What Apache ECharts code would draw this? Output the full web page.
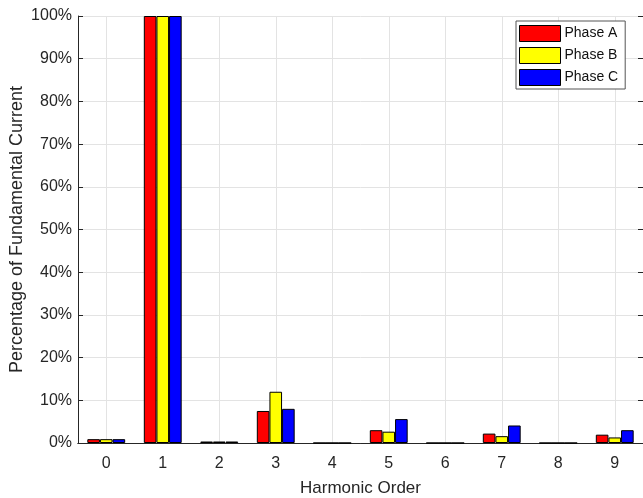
<!DOCTYPE html>
<html><head><meta charset="utf-8">
<script src="https://cdn.jsdelivr.net/npm/echarts@6/dist/echarts.min.js"></script>
<style>html,body{margin:0;padding:0;background:#fff}#c{width:643px;height:498px}</style>
</head><body><div id="c"></div>
<script>
const categories = ['0','1','2','3','4','5','6','7','8','9'];
const phaseA = [0.9, 100, 0.35, 7.5, 0, 3.0, 0, 2.2, 0, 1.95];
const phaseB = [0.9, 100, 0.35, 12.0, 0, 2.65, 0, 1.6, 0, 1.3];
const phaseC = [0.9, 100, 0.35, 8.0, 0, 5.6, 0, 4.1, 0, 3.0];
const yTicks = [0,10,20,30,40,50,60,70,80,90,100];
const seriesNames = ['Phase A','Phase B','Phase C'];
const colors = ['#ff0000','#ffff00','#0000ff'];

const FONT = 'Liberation Sans, Arial, sans-serif';
const TXT = '#262626';
const chart = echarts.init(document.getElementById('c'));
const mk = (name, data, color) => ({
  name, type: 'bar', data, xAxisIndex: 0, yAxisIndex: 0,
  barGap: '0%', barCategoryGap: '33%',
  itemStyle: {color, borderColor: '#000', borderWidth: 1},
  emphasis: {disabled: true}
});
chart.setOption({
  animation: false,
  textStyle: {fontFamily: FONT},
  grid: {left: 78, right: 0, top: 16, bottom: 55, containLabel: false, outerBoundsMode: 'none'},
  legend: {
    orient: 'vertical', left: 516, top: 21,
    data: seriesNames,
    icon: 'rect', itemWidth: 41, itemHeight: 16, itemGap: 5,
    padding: [4, 7, 3, 3],
    backgroundColor: '#fff', borderColor: '#555', borderWidth: 1,
    textStyle: {fontSize: 14, color: '#111', fontFamily: FONT, padding: [0,0,0,-1]},
    itemStyle: {borderColor: '#000', borderWidth: 1}
  },
  xAxis: [{
    type: 'category', data: categories, position: 'bottom',
    name: 'Harmonic Order', nameLocation: 'middle', nameGap: 37, nameMoveOverlap: false,
    nameTextStyle: {fontSize: 17, color: TXT, fontFamily: FONT},
    axisLine: {lineStyle: {color: TXT, width: 1}},
    axisTick: {inside: true, alignWithLabel: true, length: 5, lineStyle: {color: TXT}},
    axisLabel: {fontSize: 16, color: TXT, margin: 13, fontFamily: FONT},
    splitLine: {show: true, alignWithLabel: true, lineStyle: {color: '#e3e3e3', width: 1}}
  }, {
    type: 'category', data: categories, position: 'top',
    axisLine: {lineStyle: {color: TXT, width: 1}},
    axisTick: {inside: true, alignWithLabel: true, length: 5, lineStyle: {color: TXT}},
    axisLabel: {show: false}, splitLine: {show: false}
  }],
  yAxis: [{
    type: 'value', min: 0, max: 100, interval: 10,
    name: 'Percentage of Fundamental Current', nameLocation: 'middle', nameGap: 52, nameMoveOverlap: false,
    nameTextStyle: {fontSize: 18, color: TXT, fontFamily: FONT},
    axisLine: {show: true, lineStyle: {color: TXT, width: 1}},
    axisTick: {show: true, inside: true, length: 5, lineStyle: {color: TXT}},
    axisLabel: {fontSize: 16, color: TXT, margin: 6, fontFamily: FONT,
      formatter: v => yTicks.includes(v) ? v + '%' : ''},
    splitLine: {show: true, lineStyle: {color: '#e3e3e3', width: 1}}
  }, {
    type: 'value', min: 0, max: 100, interval: 10, position: 'right',
    axisLine: {show: true, lineStyle: {color: TXT, width: 1}},
    axisTick: {show: true, inside: true, length: 5, lineStyle: {color: TXT}},
    axisLabel: {show: false}, splitLine: {show: false}
  }],
  series: [
    mk(seriesNames[0], phaseA, colors[0]),
    mk(seriesNames[1], phaseB, colors[1]),
    mk(seriesNames[2], phaseC, colors[2])
  ]
});
</script></body></html>
